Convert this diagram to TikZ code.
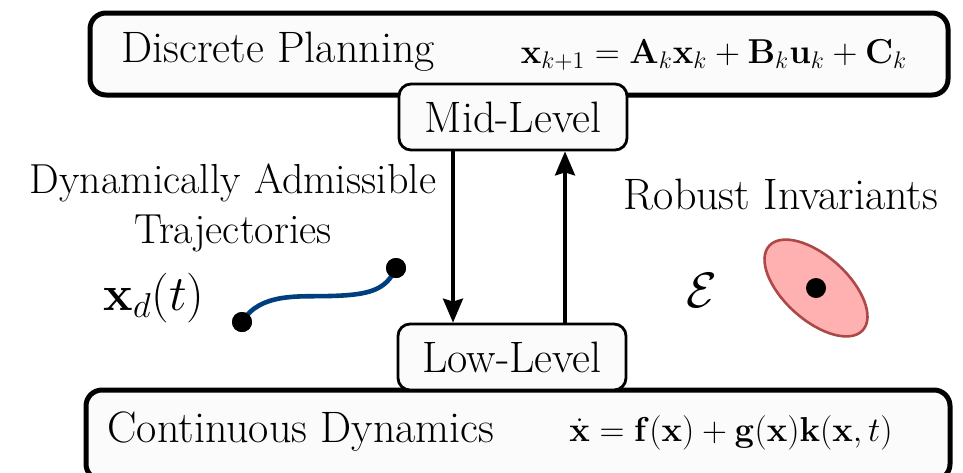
\documentclass[tikz,border=0pt]{standalone}
\usepackage{amsmath}
\usepackage{bm}
\usepackage{tikz}
\usetikzlibrary{arrows.meta,shapes.geometric}
\definecolor{trajblue}{RGB}{0,62,126}
\definecolor{setfill}{RGB}{255,176,176}
\definecolor{setedge}{RGB}{172,72,72}

\begin{document}
\begin{tikzpicture}[x=0.5pt, y=-0.5pt,
    layer/.style={draw, line width=2.5pt, rounded corners=8pt, fill=gray!3, inner sep=0pt},
    level/.style={draw, line width=1.4pt, rounded corners=6pt, fill=gray!3, inner sep=0pt,
        minimum width=114pt, minimum height=33pt, font=\fontsize{22}{26}\selectfont},
    label/.style={font=\fontsize{22}{26}\selectfont, align=center},
    eqn/.style={font=\fontsize{18}{21}\selectfont},
    flow/.style={line width=1.7pt, -{Stealth[length=12pt,width=10pt,inset=1.5pt]}},
    endpt/.style={circle, fill=black, inner sep=0pt, minimum size=10pt}]
    \useasboundingbox (0,0) rectangle (963,472);

    % the two layers
    \node[layer, minimum width=429pt, minimum height=41pt] (plan) at (519,54) {};
    \node[layer, minimum width=432pt, minimum height=45pt] (dyn) at (518,435) {};
    \node[label] (plantxt) at (278,52) {Discrete Planning};
    \node[eqn] (planeq) at (714,55) {$\mathbf{x}_{k+1} = \mathbf{A}_k\mathbf{x}_k + \mathbf{B}_k\mathbf{u}_k + \mathbf{C}_k$};
    \node[label] (dyntxt) at (301,432) {Continuous Dynamics};
    \node[eqn] (dyneq) at (731,433) {$\dot{\mathbf{x}} = \mathbf{f}(\mathbf{x}) + \mathbf{g}(\mathbf{x})\mathbf{k}(\mathbf{x},t)$};

    % controllers in between
    \node[level] (mid) at (513,117) {Mid-Level};
    \node[level] (low) at (512,357) {Low-Level};
    \draw[flow] ([xshift=-30pt]mid.south) -- ([xshift=-30pt]mid.south |- low.north);
    \draw[flow] ([xshift=26.5pt]low.north) -- ([xshift=26.5pt]low.north |- mid.south);

    % trajectories
    \node[label, font=\fontsize{21}{25}\selectfont] (trajtxt) at (233,208) {Dynamically Admissible\\Trajectories};
    \node[font=\fontsize{26}{30}\selectfont] (xd) at (154,298) {$\mathbf{x}_d(t)$};
    \node[endpt] (xstart) at (242,322) {};
    \node[endpt] (xend) at (396,268) {};
    \draw[trajblue, line width=2.3pt] (xstart.center) .. controls (260,292) and (300,297) .. (330,296)
        .. controls (370,295) and (386,290) .. (xend.center);
    \node[endpt] at (xstart) {};
    \node[endpt] at (xend) {};

    % invariant set
    \node[label] (invtxt) at (781,195) {Robust Invariants};
    \node[font=\fontsize{27}{30}\selectfont] (E) at (702,290) {$\mathcal{E}$};
    \node[ellipse, draw=setedge, fill=setfill, line width=1.3pt, rotate=-42,
        minimum width=63pt, minimum height=32pt] (inv) at (816,288) {};
    \node[endpt] (center) at (inv.center) {};
\end{tikzpicture}
\end{document}
